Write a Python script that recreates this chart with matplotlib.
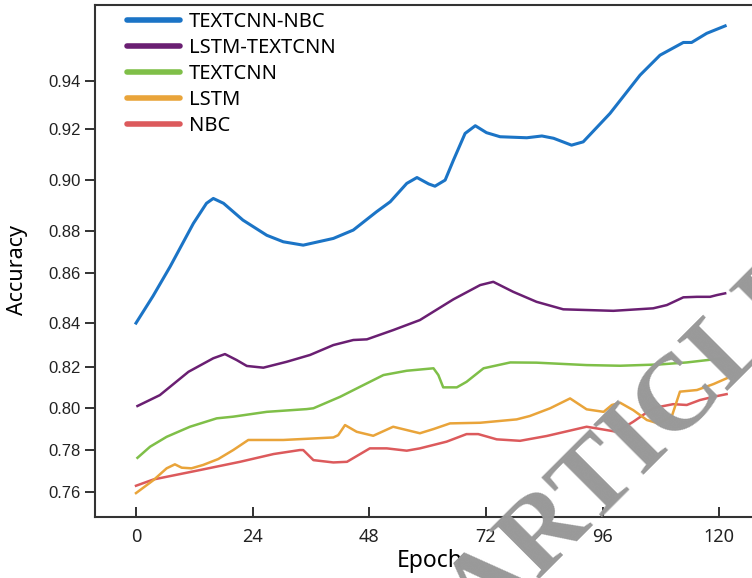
import numpy as np
import matplotlib.pyplot as plt

# accuracy per epoch for the five models
ep_tcnb = [0, 3.5, 7, 11.8, 14.5, 15.9, 18, 22, 26.9, 30.3, 34.4, 40.6, 44.7, 49.5, 52.3, 55.7,
           57.8, 60.2, 61.5, 63.6, 65.3, 67.7, 69.8, 72.1, 74.9, 80.4, 83.5, 85.9, 89.6, 92,
           97.5, 103.7, 107.8, 112.6, 114.3, 117.4, 121.2]
acc_tcnb = [0.840, 0.8508, 0.863, 0.883, 0.8909, 0.8928, 0.8909, 0.8843, 0.878, 0.8749, 0.8733,
            0.8765, 0.8804, 0.8876, 0.8915, 0.8987, 0.901, 0.8985, 0.8976, 0.900, 0.9078, 0.9183,
            0.9214, 0.9186, 0.917, 0.9166, 0.9173, 0.9164, 0.9137, 0.915, 0.9265, 0.9425, 0.9508,
            0.9561, 0.9561, 0.9599, 0.963]

ep_lstc = [0.3, 4.9, 10.8, 15.9, 18.3, 20.7, 22.8, 26.2, 31, 35.8, 40.6, 44.7, 47.5, 52.9, 58.4,
           65.3, 70.8, 73.5, 77.6, 82.4, 87.9, 98.2, 106.4, 109.2, 112.6, 115.4, 118.1, 119.5, 121.2]
acc_lstc = [0.801, 0.8063, 0.8177, 0.824, 0.8259, 0.8232, 0.8205, 0.8197, 0.8224, 0.8255, 0.830,
            0.8323, 0.8326, 0.8368, 0.8412, 0.8495, 0.8552, 0.8565, 0.8525, 0.8485, 0.8455, 0.8449,
            0.8459, 0.8472, 0.8503, 0.8505, 0.8505, 0.8512, 0.8519]

ep_tcnn = [0.3, 2.9, 6.3, 11.1, 16.6, 20, 26.9, 35.1, 36.5, 42, 46.1, 50.9, 55.7, 61.2, 62.2,
           63.2, 66, 68, 71.5, 77, 82.4, 92.7, 99.6, 107.8, 113.3, 118.8, 121.2]
acc_tcnn = [0.7763, 0.7816, 0.7863, 0.7911, 0.7951, 0.7959, 0.7982, 0.7995, 0.7999, 0.8055, 0.8104,
            0.8161, 0.8182, 0.8194, 0.8161, 0.8101, 0.8101, 0.8128, 0.8194, 0.8221, 0.822, 0.8209,
            0.8206, 0.8212, 0.8221, 0.8235, 0.824]

ep_lstm = [0, 3.6, 6.3, 8, 9.4, 11.4, 13.8, 16.9, 20, 23.1, 30.3, 40.6, 41.6, 43, 45.4, 48.8,
           52.9, 58.4, 61.2, 64.6, 70.8, 78.3, 81, 85.2, 89.3, 92.7, 96.2, 97.9, 99.6, 102.3,
           105.1, 107.5, 110.2, 111.9, 115.4, 118.8, 121.5]
acc_lstm = [0.7595, 0.7657, 0.7713, 0.7732, 0.7716, 0.7713, 0.7729, 0.7757, 0.780, 0.7848, 0.7848,
            0.786, 0.7871, 0.7919, 0.7887, 0.7868, 0.7911, 0.788, 0.790, 0.7927, 0.793, 0.7946,
            0.7962, 0.7999, 0.8047, 0.7994, 0.7982, 0.8015, 0.8026, 0.799, 0.7943, 0.7927, 0.7959,
            0.808, 0.8088, 0.8117, 0.8145]

ep_nbc = [0, 3.6, 13.2, 21.4, 28.3, 33.7, 34.4, 36.5, 40.6, 43.4, 48.1, 51.6, 55.7, 58.4, 63.9,
          68, 70.4, 74.2, 79, 84.5, 92.7, 94.8, 98.9, 102.3, 106.4, 110.5, 113.3, 116, 118.8, 121.5]
acc_nbc = [0.763, 0.766, 0.7705, 0.7744, 0.7781, 0.780, 0.780, 0.7752, 0.7741, 0.7744, 0.7808,
           0.7808, 0.7797, 0.7808, 0.784, 0.7876, 0.7876, 0.7851, 0.7844, 0.7867, 0.7911, 0.7903,
           0.7887, 0.7935, 0.800, 0.8019, 0.8015, 0.8039, 0.8055, 0.8068]

x_ticks = [0, 24, 48, 72, 96, 120]
y_ticks = [0.76, 0.78, 0.80, 0.82, 0.84, 0.86, 0.88, 0.90, 0.92, 0.94]

# the accuracy axis is not evenly spaced, so use a piecewise scale
y_knots = [0.70, 0.76, 0.78, 0.80, 0.82, 0.84, 0.86, 0.88, 0.90, 0.92, 0.94, 1.00]
y_room = [-102, 25, 67, 109, 150, 194, 244, 286, 337, 388, 436, 580]


def fwd(v):
    return np.interp(v, y_knots, y_room)


def inv(p):
    return np.interp(p, y_room, y_knots)


fig = plt.figure(figsize=(7.52, 5.78), dpi=100)
ax = fig.add_axes([0.1263, 0.1055, 0.891, 0.8858])

ax.plot(ep_nbc, acc_nbc, color='#dc5a5c', lw=1.8, label='NBC')
ax.plot(ep_lstm, acc_lstm, color='#e9a43a', lw=1.8, label='LSTM')
ax.plot(ep_tcnn, acc_tcnn, color='#7fbf48', lw=1.8, label='TEXTCNN')
ax.plot(ep_lstc, acc_lstc, color='#6a1f72', lw=1.8, label='LSTM-TEXTCNN')
ax.plot(ep_tcnb, acc_tcnb, color='#1b74c6', lw=2.2, label='TEXTCNN-NBC')

ax.set_yscale('function', functions=(fwd, inv))
ax.set_xlim(-8.44, 129.4)
ax.set_ylim(0.7482, 0.9717)
ax.set_xticks(x_ticks)
ax.set_xticklabels([str(t) for t in x_ticks], family='Noto Sans', fontsize=13)
ax.set_yticks(y_ticks)
ax.set_yticklabels(['%.2f' % t for t in y_ticks], family='Liberation Sans', fontsize=12)
ax.yaxis.set_minor_locator(plt.NullLocator())
ax.tick_params(axis='x', direction='in', length=7, width=1.3, pad=8, colors='#222222')
ax.tick_params(axis='y', direction='out', length=7.5, width=1.3, pad=3, colors='#222222')

for side in ['left', 'bottom', 'top']:
    ax.spines[side].set_linewidth(1.5)
    ax.spines[side].set_color('#333333')
ax.spines['right'].set_visible(False)

ax.set_xlabel('Epoch', family='Noto Sans', fontsize=16.5, labelpad=2)
ax.set_ylabel('Accuracy', family='Noto Sans', fontsize=15.5)
ax.yaxis.set_label_coords(-0.1, 0.482)

handles, labels = ax.get_legend_handles_labels()
leg = ax.legend(handles[::-1], labels[::-1], loc='upper left', bbox_to_anchor=(0.027, 1.013),
                frameon=False, prop={'family': 'Noto Sans', 'size': 14.5},
                handlelength=2.6, handletextpad=0.45, labelspacing=0.29, borderpad=0.2)
for h in leg.legend_handles:
    h.set_linewidth(4)
    h.set_solid_capstyle('round')

fig.text(0.871, 0.200, 'ARTICLE', rotation=45, rotation_mode='anchor', ha='center', va='baseline',
         family='Liberation Serif', fontweight='bold', fontsize=78, color='#999999')

fig.savefig('out.png', dpi=100)
